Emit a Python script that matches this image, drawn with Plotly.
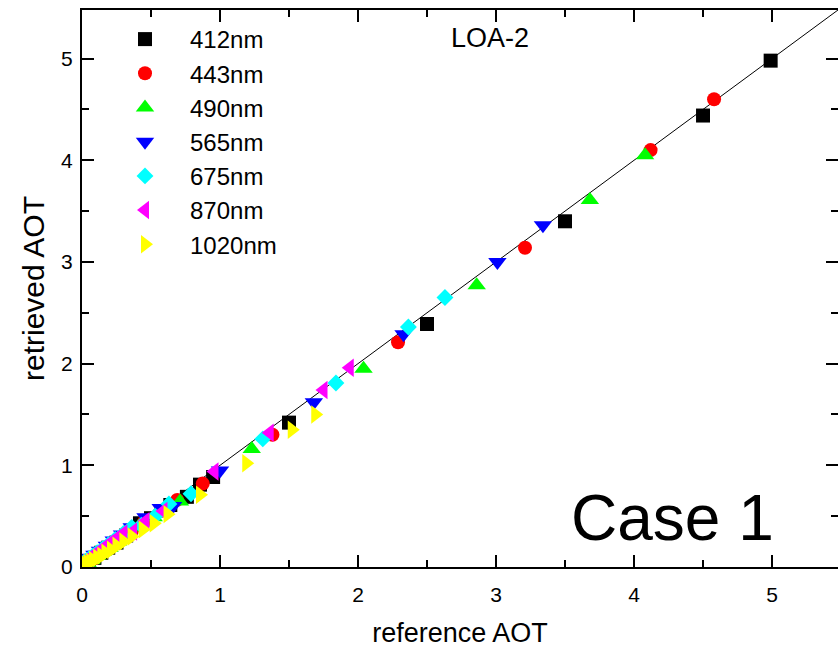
import plotly.graph_objects as go

# Reference vs. retrieved aerosol optical thickness per wavelength (LOA-2, case 1)
ref_412 = [0.02, 0.05, 0.09, 0.14, 0.19, 0.25, 0.32, 0.42, 0.50, 0.64, 0.76, 0.855, 0.95, 1.50, 2.50, 3.50, 4.50, 4.99]
ret_412 = [0.02, 0.05, 0.09, 0.14, 0.19, 0.24, 0.31, 0.43, 0.48, 0.61, 0.69, 0.81, 0.885, 1.42, 2.39, 3.40, 4.44, 4.98]

ref_443 = [0.02, 0.05, 0.08, 0.12, 0.17, 0.23, 0.29, 0.36, 0.45, 0.57, 0.69, 0.875, 1.38, 2.29, 3.21, 4.12, 4.58]
ret_443 = [0.02, 0.05, 0.08, 0.12, 0.17, 0.22, 0.28, 0.35, 0.44, 0.55, 0.66, 0.82, 1.30, 2.21, 3.14, 4.10, 4.60]

ref_490 = [0.02, 0.04, 0.07, 0.11, 0.15, 0.20, 0.26, 0.33, 0.41, 0.52, 0.71, 1.23, 2.04, 2.86, 3.68, 4.08]
ret_490 = [0.02, 0.04, 0.07, 0.11, 0.15, 0.19, 0.25, 0.32, 0.39, 0.49, 0.645, 1.16, 1.95, 2.77, 3.61, 4.05]

ref_565 = [0.02, 0.04, 0.06, 0.09, 0.13, 0.18, 0.23, 0.29, 0.36, 0.46, 0.57, 0.66, 1.00, 1.68, 2.33, 3.01, 3.34]
ret_565 = [0.05, 0.07, 0.09, 0.12, 0.16, 0.21, 0.26, 0.32, 0.39, 0.49, 0.58, 0.60, 0.95, 1.62, 2.29, 3.00, 3.36]

ref_675 = [0.01, 0.03, 0.05, 0.08, 0.11, 0.15, 0.19, 0.24, 0.30, 0.36, 0.43, 0.53, 0.63, 0.79, 1.31, 1.84, 2.365, 2.63]
ret_675 = [0.04, 0.06, 0.08, 0.11, 0.14, 0.18, 0.22, 0.27, 0.33, 0.39, 0.41, 0.50, 0.62, 0.72, 1.26, 1.81, 2.36, 2.65]

ref_870 = [0.01, 0.02, 0.04, 0.06, 0.09, 0.12, 0.16, 0.20, 0.25, 0.30, 0.37, 0.46, 0.59, 0.96, 1.36, 1.75, 1.94]
ret_870 = [0.00, 0.05, 0.07, 0.09, 0.12, 0.15, 0.19, 0.23, 0.28, 0.33, 0.35, 0.45, 0.55, 0.94, 1.32, 1.74, 1.96]

ref_1020 = [0.01, 0.02, 0.04, 0.06, 0.08, 0.11, 0.14, 0.17, 0.21, 0.25, 0.30, 0.36, 0.44, 0.52, 0.62, 0.855, 1.19, 1.52, 1.69]
ret_1020 = [0.03, 0.03, 0.04, 0.05, 0.07, 0.09, 0.11, 0.14, 0.17, 0.21, 0.25, 0.30, 0.37, 0.43, 0.52, 0.71, 1.02, 1.35, 1.50]

wavelength_labels = ["412nm", "443nm", "490nm", "565nm", "675nm", "870nm", "1020nm"]
series_ref = [ref_412, ref_443, ref_490, ref_565, ref_675, ref_870, ref_1020]
series_ret = [ret_412, ret_443, ret_490, ret_565, ret_675, ret_870, ret_1020]
colors = ["#000000", "#ff0000", "#00ff00", "#0000ff", "#00ffff", "#ff00ff", "#ffff00"]
symbols = ["square", "circle", "triangle-up", "triangle-down", "diamond", "triangle-left", "triangle-right"]
sizes = [14, 14, 16, 16, 13, 16, 16]

one_to_one = [0, 5.5]
axis_range = [0, 5.478]
major_ticks = [0, 1, 2, 3, 4, 5]

FONT = "Arial, Liberation Sans, sans-serif"

fig = go.Figure()

fig.add_trace(go.Scatter(
    x=one_to_one, y=one_to_one, mode="lines",
    line=dict(color="black", width=1), showlegend=False, hoverinfo="skip",
))

for lab, xs, ys, c, s, sz in zip(wavelength_labels, series_ref, series_ret, colors, symbols, sizes):
    fig.add_trace(go.Scatter(
        x=xs, y=ys, mode="markers", name=lab,
        marker=dict(symbol=s, size=sz, color=c, line=dict(width=0)),
    ))

# invisible trace anchoring the right-hand tick axis
fig.add_trace(go.Scatter(x=[None], y=[None], yaxis="y2", showlegend=False, hoverinfo="skip"))

common_axis = dict(
    showgrid=False, zeroline=False,
    ticks="inside", ticklen=12, tickwidth=2, tickcolor="black",
    tickvals=major_ticks,
    minor=dict(ticks="inside", ticklen=7, tickwidth=2, tickcolor="black", dtick=0.5, showgrid=False),
    tickfont=dict(family=FONT, size=21, color="black"),
)

fig.update_layout(
    width=838, height=648,
    margin=dict(l=82, r=0, t=10, b=81),
    paper_bgcolor="white", plot_bgcolor="white",
    xaxis=dict(
        range=axis_range, showline=True, linecolor="black", linewidth=2, mirror="ticks",
        ticklabelstandoff=8,
        title=dict(text="reference AOT", font=dict(family=FONT, size=27, color="black"), standoff=19),
        **common_axis,
    ),
    yaxis=dict(
        range=axis_range, showline=True, linecolor="black", linewidth=2,
        ticklabelstandoff=3,
        title=dict(text="retrieved AOT", font=dict(family=FONT, size=30, color="black"), standoff=8),
        **common_axis,
    ),
    yaxis2=dict(
        range=axis_range, overlaying="y", side="right", matches="y",
        showline=False, showticklabels=False,
        **{k: v for k, v in common_axis.items() if k != "tickfont"},
    ),
    showlegend=True,
    legend=dict(
        x=(100 - 82) / 756, y=1 - (17 - 10) / 557, xanchor="left", yanchor="top",
        bgcolor="rgba(0,0,0,0)", borderwidth=0,
        font=dict(family=FONT, size=24, color="black"),
        itemwidth=80, itemsizing="trace", tracegroupgap=0,
    ),
    annotations=[
        dict(text="LOA-2", x=490, y=38, xref="x domain", yref="y domain", showarrow=False,
             xanchor="center", yanchor="middle",
             font=dict(family=FONT, size=27, color="black")),
        dict(text="Case 1", x=672, y=518, xref="x domain", yref="y domain", showarrow=False,
             xanchor="center", yanchor="middle",
             font=dict(family=FONT, size=64, color="black")),
    ],
)

# place the annotations by pixel position inside the plot area
plot_w, plot_h = 756, 557
for ann in fig.layout.annotations:
    ann.x = (ann.x - 82) / plot_w
    ann.y = 1 - (ann.y - 10) / plot_h

fig.write_html("out.html")
